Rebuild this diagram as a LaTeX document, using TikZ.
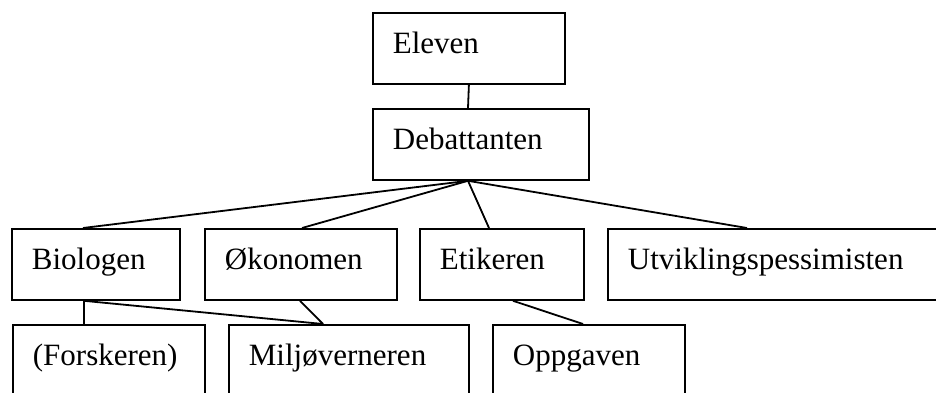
\documentclass[tikz,border=0pt]{standalone}
\usepackage{fontspec}
\setmainfont{Liberation Serif}
\begin{document}
\begin{tikzpicture}[x=1pt,y=-1pt,
  box/.style={draw,line width=1.8pt,rectangle,anchor=north west,inner xsep=20pt,inner ysep=0pt,
    text height=41pt,text depth=30pt,align=left,font=\fontsize{31}{36}\selectfont},
  conn/.style={line width=1.8pt}]
\useasboundingbox (0,0) rectangle (936,392);
\clip (0,0) rectangle (936,392);
\node[box,text width=152pt] (ele) at (372,12) {Eleven};
\node[box,text width=176pt] (deb) at (372,108) {Debattanten};
\node[box,text width=128pt] (bio) at (11,228) {Biologen};
\node[box,text width=152pt] (oko) at (204,228) {Økonomen};
\node[box,text width=124pt] (eti) at (419,228) {Etikeren};
\node[box,text width=360pt,minimum width=400pt] (utv) at (607,228) {Utviklingspessimisten};
\node[box,text width=152pt] (for) at (12,324) {(Forskeren)};
\node[box,text width=200pt] (mil) at (228,324) {Miljøverneren};
\node[box,text width=152pt] (opp) at (492,324) {Oppgaven};
\coordinate (hub) at ([xshift=96pt]deb.south west);
\coordinate (bioB) at ([xshift=73pt]bio.south west);
\draw[conn] (ele.south) -- ([xshift=96pt]deb.north west);
\draw[conn] (hub) -- ([xshift=72pt]bio.north west);
\draw[conn] (hub) -- ([xshift=98pt]oko.north west);
\draw[conn] (hub) -- ([xshift=70pt]eti.north west);
\draw[conn] (hub) -- ([xshift=140pt]utv.north west);
\draw[conn] (bioB) -- ([xshift=72pt]for.north west);
\draw[conn] (bioB) -- ([xshift=95pt]mil.north west);
\draw[conn] ([xshift=96pt]oko.south west) -- ([xshift=95pt]mil.north west);
\draw[conn] ([xshift=94pt]eti.south west) -- ([xshift=91pt]opp.north west);
\end{tikzpicture}
\end{document}
